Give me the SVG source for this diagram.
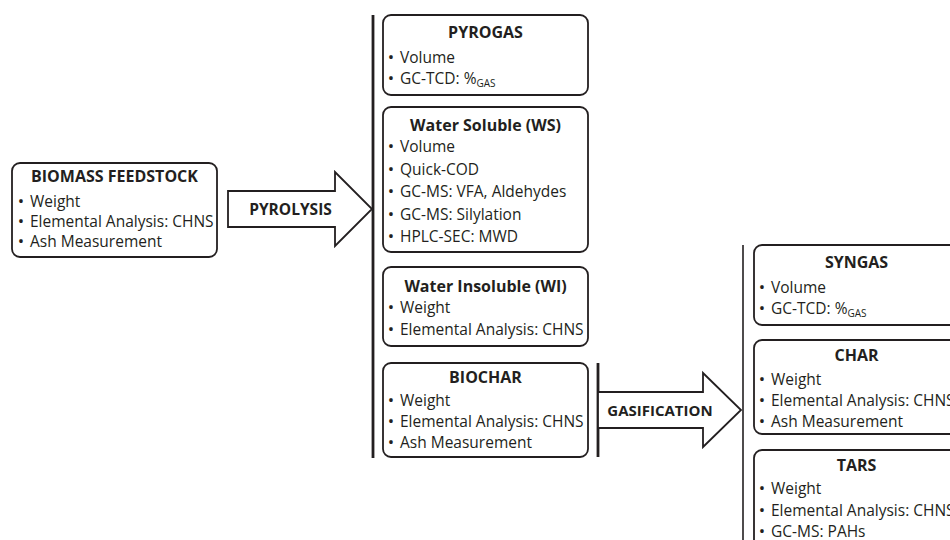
<svg xmlns="http://www.w3.org/2000/svg" width="950" height="540" viewBox="0 0 950 540">
<style>
  .box { fill: #ffffff; stroke: #231f20; stroke-width: 1.8; }
  .arrow { fill: #ffffff; stroke: #231f20; stroke-width: 1.8; stroke-linejoin: miter; }
  .bar { stroke: #231f20; stroke-width: 2.8; fill: none; }
  .thin { stroke: #231f20; stroke-width: 1.6; fill: none; }
  text { font-family: "Open Sans", "DejaVu Sans", sans-serif; font-size: 15.5px; fill: #231f20; }
  .title { font-weight: bold; text-anchor: middle; font-size: 16px; }
  .bul { text-anchor: middle; font-size: 17px; }
  .sub { font-size: 10px; }
</style>
<rect width="950" height="540" fill="#ffffff"/>

<g id="connectors">
  <line class="bar" x1="373" y1="15" x2="373" y2="458"/>
  <line class="bar" x1="598" y1="363" x2="598" y2="457"/>
  <line class="thin" x1="743" y1="245" x2="743" y2="540"/>
  <g id="pyrolysis-arrow">
    <polygon class="arrow" points="228,191 335,191 335,172 372,209 335,246 335,227 228,227"/>
    <text class="title" x="290.5" y="214.5" style="font-size:15.5px">PYROLYSIS</text>
  </g>
  <g id="gasification-arrow">
    <polygon class="arrow" points="598,392 703,392 703,373 741,410 703,447 703,428 598,428"/>
    <text class="title" x="660" y="416" style="font-size:15px">GASIFICATION</text>
  </g>
</g>

<g id="biomass">
  <rect class="box" x="12" y="163" width="205" height="94" rx="8"/>
  <text class="title" x="114.5" y="182">BIOMASS FEEDSTOCK</text>
  <text class="bul" x="21" y="207">•</text><text x="30" y="207">Weight</text>
  <text class="bul" x="21" y="227">•</text><text x="30" y="227">Elemental Analysis: CHNS</text>
  <text class="bul" x="21" y="247">•</text><text x="30" y="247">Ash Measurement</text>
</g>

<g id="pyrogas">
  <rect class="box" x="383" y="15" width="205" height="80" rx="8"/>
  <text class="title" x="485.5" y="38">PYROGAS</text>
  <text class="bul" x="391" y="63">•</text><text x="400" y="63">Volume</text>
  <text class="bul" x="391" y="84">•</text><text x="400" y="84">GC-TCD: %<tspan class="sub" dy="3">GAS</tspan></text>
</g>

<g id="water-soluble">
  <rect class="box" x="383" y="107" width="205" height="145" rx="8"/>
  <text class="title" x="485.5" y="131">Water Soluble (WS)</text>
  <text class="bul" x="391" y="152">•</text><text x="400" y="152">Volume</text>
  <text class="bul" x="391" y="174.5">•</text><text x="400" y="174.5">Quick-COD</text>
  <text class="bul" x="391" y="197">•</text><text x="400" y="197">GC-MS: VFA, Aldehydes</text>
  <text class="bul" x="391" y="219.5">•</text><text x="400" y="219.5">GC-MS: Silylation</text>
  <text class="bul" x="391" y="242">•</text><text x="400" y="242">HPLC-SEC: MWD</text>
</g>

<g id="water-insoluble">
  <rect class="box" x="383" y="267" width="205" height="79" rx="8"/>
  <text class="title" x="485.5" y="291.5">Water Insoluble (WI)</text>
  <text class="bul" x="391" y="313">•</text><text x="400" y="313">Weight</text>
  <text class="bul" x="391" y="335">•</text><text x="400" y="335">Elemental Analysis: CHNS</text>
</g>

<g id="biochar">
  <rect class="box" x="383" y="363" width="205" height="94" rx="8"/>
  <text class="title" x="485.5" y="383">BIOCHAR</text>
  <text class="bul" x="391" y="406">•</text><text x="400" y="406">Weight</text>
  <text class="bul" x="391" y="427">•</text><text x="400" y="427">Elemental Analysis: CHNS</text>
  <text class="bul" x="391" y="448">•</text><text x="400" y="448">Ash Measurement</text>
</g>

<g id="syngas">
  <rect class="box" x="754" y="245" width="205" height="80" rx="8"/>
  <text class="title" x="856.5" y="268">SYNGAS</text>
  <text class="bul" x="762" y="293">•</text><text x="771" y="293">Volume</text>
  <text class="bul" x="762" y="314">•</text><text x="771" y="314">GC-TCD: %<tspan class="sub" dy="3">GAS</tspan></text>
</g>

<g id="char">
  <rect class="box" x="754" y="340" width="205" height="94" rx="8"/>
  <text class="title" x="856.5" y="361">CHAR</text>
  <text class="bul" x="762" y="385">•</text><text x="771" y="385">Weight</text>
  <text class="bul" x="762" y="406">•</text><text x="771" y="406">Elemental Analysis: CHNS</text>
  <text class="bul" x="762" y="427">•</text><text x="771" y="427">Ash Measurement</text>
</g>

<g id="tars">
  <rect class="box" x="754" y="450" width="205" height="110" rx="8"/>
  <text class="title" x="856.5" y="471">TARS</text>
  <text class="bul" x="762" y="494">•</text><text x="771" y="494">Weight</text>
  <text class="bul" x="762" y="516">•</text><text x="771" y="516">Elemental Analysis: CHNS</text>
  <text class="bul" x="762" y="537">•</text><text x="771" y="537">GC-MS: PAHs</text>
</g>
</svg>
